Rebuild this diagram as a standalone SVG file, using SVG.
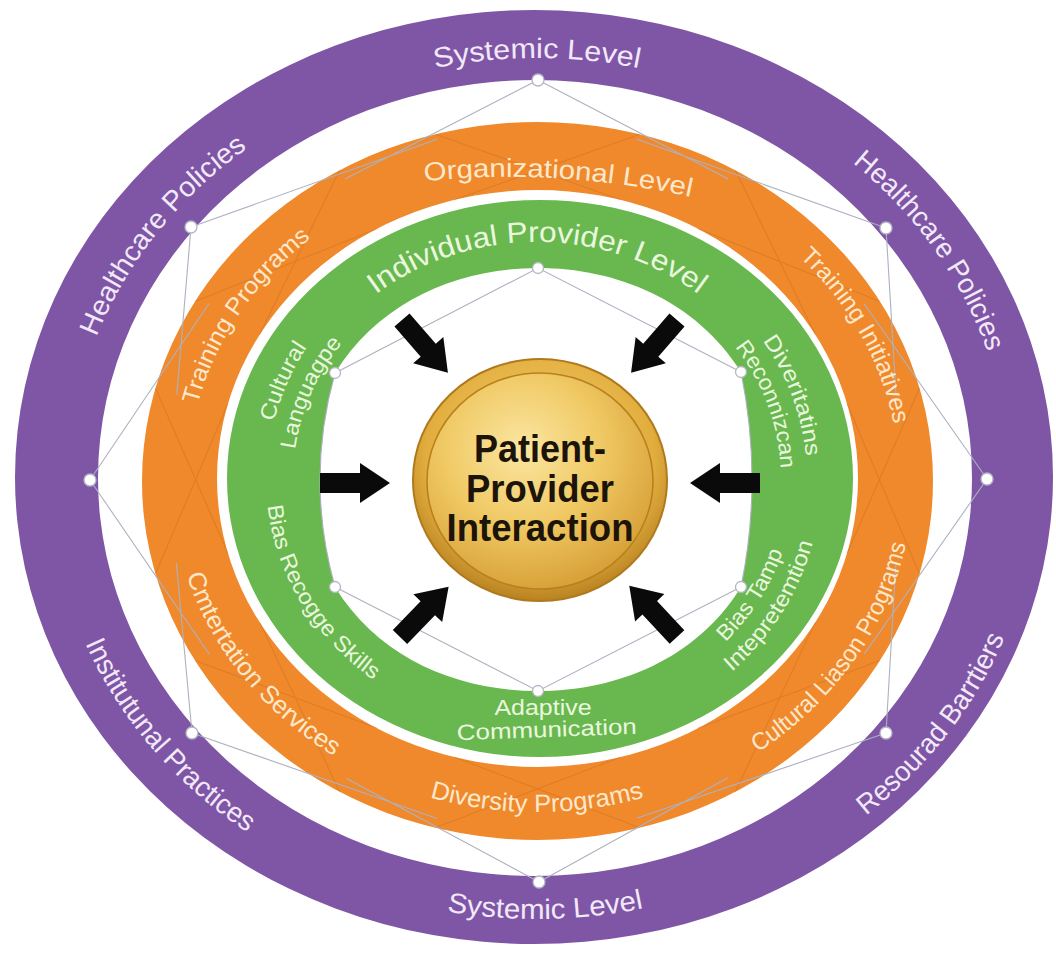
<svg xmlns="http://www.w3.org/2000/svg" width="1056" height="953" viewBox="0 0 1056 953">
<defs>
<style>
.lbl{font-family:"Liberation Sans",Arial,sans-serif;text-anchor:middle}
.pt{fill:#f2e9f8;font-size:28px}
.ot{fill:#fde8cc;font-size:24px}
.gt{fill:#eaf7df;font-size:22px}
.web{stroke:#adb1c0;stroke-width:1.1;fill:none}
.xl{stroke:#b8641a;stroke-width:1.1;fill:none;opacity:.3}
.node{fill:#ffffff;stroke:#b3b6c5;stroke-width:1.3}
.arrow{fill:#0a0a0a}
.ctr{font-family:"Liberation Sans",Arial,sans-serif;font-weight:bold;font-size:39px;fill:#1c1409;text-anchor:middle}
</style>
<radialGradient id="goldRim" cx="50%" cy="40%" r="60%">
<stop offset="0" stop-color="#f6d676"/>
<stop offset="0.75" stop-color="#e2ad3e"/>
<stop offset="1" stop-color="#b98222"/>
</radialGradient>
<radialGradient id="goldFace" cx="42%" cy="35%" r="70%">
<stop offset="0" stop-color="#fbe6a2"/>
<stop offset="0.5" stop-color="#f0c964"/>
<stop offset="1" stop-color="#d59c33"/>
</radialGradient>
<path id="arrowShape" d="M0,-10 H40 V-20 L70,0 L40,20 V10 H0 Z"/>
<path id="p-sys-top" d="M303,114.4 A468,421 0 0 1 771,114.4"/>
<path id="p-hc-left" d="M69,479 A468,421 0 0 1 377,83.4"/>
<path id="p-hc-right" d="M721.4,87.8 A472,425 0 0 1 1008.3,501.2"/>
<path id="p-inst" d="M50.3,494.4 A487,440 0 0 0 386.5,897.4"/>
<path id="p-sys-bot" d="M300.9,863.8 A487,440 0 0 0 787.8,856.1"/>
<path id="p-res" d="M716.2,896.3 A500,447 0 0 0 1036.9,471.2"/>
<path id="p-org" d="M410,183 Q555,165 705,200"/>
<path id="p-trp" d="M188.8,501.1 A349,316 0 0 1 395.1,190.3"/>
<path id="p-tri" d="M712.5,197.4 A362,322 0 0 1 894.5,529.4"/>
<path id="p-cmt" d="M171.1,484.8 A366,333 0 0 0 417.8,793.9"/>
<path id="p-div" d="M354,767.4 A366,333 0 0 0 720,767.4"/>
<path id="p-cul" d="M683.9,790.1 A376,338 0 0 0 912.5,461.3"/>
<path id="p-ind" d="M314.4,360.5 A257,237 0 0 1 759.6,360.5"/>
<path id="p-cult1" d="M269.6,514.1 A270,252 0 0 1 370.8,280.4"/>
<path id="p-lang" d="M295.4,510.5 A244,226 0 0 1 386.8,300.9"/>
<path id="p-dive" d="M714.1,288.8 A270,252 0 0 1 802,527.1"/>
<path id="p-rec" d="M697.1,308.4 A244,226 0 0 1 776.5,522.1"/>
<path id="p-bias" d="M271,430.9 A271,252 0 0 0 439.9,714.3"/>
<path id="p-tamp" d="M666,686 A258,239 0 0 0 795,479"/>
<path id="p-int" d="M679,708.5 A284,265 0 0 0 821,479"/>
</defs>
<rect width="1056" height="953" fill="#ffffff"/>

<g id="systemic-ring">
<path fill="#7f56a6" fill-rule="evenodd" d="M15,477 A519,467 0 1 0 1053,477 A519,467 0 1 0 15,477 Z M98,478 A437,398 0 1 0 972,478 A437,398 0 1 0 98,478 Z"/>
</g>
<g id="organizational-ring">
<path fill="#f0892b" fill-rule="evenodd" d="M142,481 A395.5,359 0 1 0 933,481 A395.5,359 0 1 0 142,481 Z M217,478.5 A320.5,288.5 0 1 0 858,478.5 A320.5,288.5 0 1 0 217,478.5 Z"/>
</g>
<g id="individual-ring">
<path fill="#69b84f" fill-rule="evenodd" d="M227,478.5 A313,278.5 0 1 0 853,478.5 A313,278.5 0 1 0 227,478.5 Z M335,373 C380,300 460,268 538,268 C616,268 696,300 741,372 Q763,480 741,587 C696,660 616,691 538,691 C460,691 380,660 335,587 Q305,480 335,373 Z"/>
</g>

<g id="connectors">
<g class="xl">
<path d="M919.6,574 L847.1,403.8 M919.6,388 L847.1,553.2"/>
<path d="M880,301.5 L697.8,228.7 M735.3,170.1 L815.1,334.2"/>
<path d="M639.9,134.2 L454.5,199.8 M435.1,134.2 L620.5,199.8"/>
<path d="M339.7,170.1 L259.9,334.2 M195,301.5 L377.2,228.7"/>
<path d="M155.4,388 L227.9,553.2 M155.4,574 L227.9,403.8"/>
<path d="M195,660.5 L377.2,728.3 M339.7,791.9 L259.9,622.8"/>
<path d="M435.1,827.8 L620.5,757.2 M639.9,827.8 L454.5,757.2"/>
<path d="M735.3,791.9 L815.1,622.8 M880,660.5 L697.8,728.3"/>
</g>
<g class="web">
<path d="M538,80 L345.5,178.8 M191,227 L437.1,139.2 M191,227 L176.8,394.8 M90,480 L209,303.5 M90,480 L209.3,654.3 M192,733 L176.4,563.2 M192,733 L437.2,818.5 M539,882 L346,778.3 M539,882 L727.8,777.8 M886,733 L636.7,818.2 M886,733 L895.9,563.1 M987,479 L864.3,654 M987,479 L864.3,304 M886,228 L896,394.9 M886,228 L636.9,139.2 M538,80 L728.4,179.1"/>
<path d="M335,373 L538,268 L741,372 M335,587 L538,691 L741,587 M335,373 Q305,480 335,587 M741,372 Q763,480 741,587"/>
</g>
</g>

<g id="systemic-labels" class="lbl pt">
<text><textPath href="#p-sys-top" startOffset="50%" textLength="205" lengthAdjust="spacingAndGlyphs">Systemic Level</textPath></text>
<text><textPath href="#p-hc-left" startOffset="50%" textLength="245" lengthAdjust="spacingAndGlyphs">Healthcare Policies</textPath></text>
<text><textPath href="#p-hc-right" startOffset="50%" textLength="235" lengthAdjust="spacingAndGlyphs">Healthcare Policies</textPath></text>
<text><textPath href="#p-inst" startOffset="50%" textLength="252" lengthAdjust="spacingAndGlyphs">Institutunal Practices</textPath></text>
<text><textPath href="#p-sys-bot" startOffset="50%" textLength="198" lengthAdjust="spacingAndGlyphs">Systemic Level</textPath></text>
<text><textPath href="#p-res" startOffset="50%" textLength="228" lengthAdjust="spacingAndGlyphs">Resourad Barrtiers</textPath></text>
</g>

<g id="organizational-labels" class="lbl ot">
<text style="font-size:26px"><textPath href="#p-org" startOffset="50%" textLength="268" lengthAdjust="spacingAndGlyphs">Organizational Level</textPath></text>
<text><textPath href="#p-trp" startOffset="50%" textLength="205" lengthAdjust="spacingAndGlyphs">Training Programs</textPath></text>
<text><textPath href="#p-tri" startOffset="50%" textLength="195" lengthAdjust="spacingAndGlyphs">Training Initiatives</textPath></text>
<text style="font-size:25px"><textPath href="#p-cmt" startOffset="50%" textLength="238" lengthAdjust="spacingAndGlyphs">Cmtertation Services</textPath></text>
<text style="font-size:25px"><textPath href="#p-div" startOffset="50%" textLength="217" lengthAdjust="spacingAndGlyphs">Diversity Programs</textPath></text>
<text><textPath href="#p-cul" startOffset="50%" textLength="262" lengthAdjust="spacingAndGlyphs">Cultural Liason Programs</textPath></text>
</g>

<g id="individual-labels" class="lbl gt">
<text style="font-size:29px"><textPath href="#p-ind" startOffset="50%" textLength="345" lengthAdjust="spacingAndGlyphs">Individual Provider Level</textPath></text>
<text><textPath href="#p-cult1" startOffset="50%" textLength="82" lengthAdjust="spacingAndGlyphs">Cultural</textPath></text>
<text><textPath href="#p-lang" startOffset="50%" textLength="118" lengthAdjust="spacingAndGlyphs">Languagpe</textPath></text>
<text><textPath href="#p-dive" startOffset="50%" textLength="125" lengthAdjust="spacingAndGlyphs">Diveritatins</textPath></text>
<text><textPath href="#p-rec" startOffset="50%" textLength="132" lengthAdjust="spacingAndGlyphs">Reconnizcan</textPath></text>
<text><textPath href="#p-bias" startOffset="50%" textLength="210" lengthAdjust="spacingAndGlyphs">Bias Recogge Skills</textPath></text>
<text><textPath href="#p-tamp" startOffset="50%" textLength="108" lengthAdjust="spacingAndGlyphs">Bias Tamp</textPath></text>
<text><textPath href="#p-int" startOffset="50%" textLength="155" lengthAdjust="spacingAndGlyphs">Intepretemtion</textPath></text>
<text x="543" y="715" textLength="97" lengthAdjust="spacingAndGlyphs">Adaptive</text>
<text x="547" y="737" transform="rotate(-2 547 737)" textLength="180" lengthAdjust="spacingAndGlyphs">Communication</text>
</g>

<g id="nodes">
<circle class="node" cx="538" cy="80" r="6"/>
<circle class="node" cx="191" cy="227" r="6"/>
<circle class="node" cx="886" cy="228" r="6"/>
<circle class="node" cx="90" cy="480" r="6"/>
<circle class="node" cx="987" cy="479" r="6"/>
<circle class="node" cx="192" cy="733" r="6"/>
<circle class="node" cx="886" cy="733" r="6"/>
<circle class="node" cx="539" cy="882" r="6"/>
<circle class="node" cx="538" cy="268" r="5.5"/>
<circle class="node" cx="335" cy="373" r="5.5"/>
<circle class="node" cx="741" cy="372" r="5.5"/>
<circle class="node" cx="335" cy="587" r="5.5"/>
<circle class="node" cx="741" cy="587" r="5.5"/>
<circle class="node" cx="538" cy="691" r="5.5"/>
</g>

<g id="arrows">
<use href="#arrowShape" class="arrow" transform="translate(320,483)"/>
<use href="#arrowShape" class="arrow" transform="translate(760,483) rotate(180)"/>
<use href="#arrowShape" class="arrow" transform="translate(402,320) rotate(49)"/>
<use href="#arrowShape" class="arrow" transform="translate(677,320) rotate(131)"/>
<use href="#arrowShape" class="arrow" transform="translate(400,637) rotate(-46)"/>
<use href="#arrowShape" class="arrow" transform="translate(677,637) rotate(-133)"/>
</g>

<g id="patient-provider-interaction">
<ellipse cx="540" cy="480" rx="127" ry="121" fill="url(#goldRim)" stroke="#b07a1c" stroke-width="2"/>
<ellipse cx="540" cy="481" rx="113" ry="108" fill="url(#goldFace)" stroke="#b9801e" stroke-width="1.6"/>
<text class="ctr" x="540" y="462" textLength="132" lengthAdjust="spacingAndGlyphs">Patient-</text>
<text class="ctr" x="540" y="502" textLength="148" lengthAdjust="spacingAndGlyphs">Provider</text>
<text class="ctr" x="540" y="541" textLength="187" lengthAdjust="spacingAndGlyphs">Interaction</text>
</g>
</svg>
